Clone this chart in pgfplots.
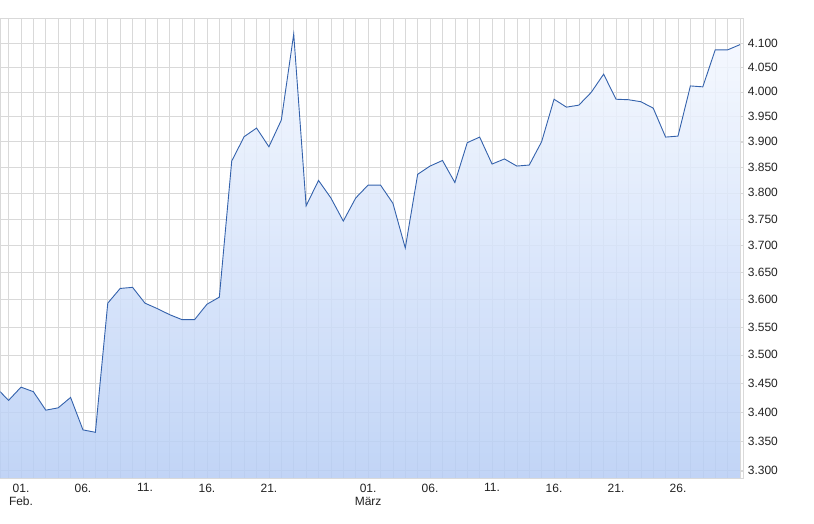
\documentclass[border=0pt]{standalone}
\usepackage{fontspec}
\setmainfont{Liberation Sans}
\usepackage{pgfplots}
\pgfplotsset{compat=1.18}
\definecolor{lineblue}{HTML}{3462AC}
\definecolor{filltop}{HTML}{F4F8FF}
\definecolor{fillbot}{HTML}{B6CDF5}
\definecolor{gridgray}{HTML}{D9D9D9}
\definecolor{labgray}{HTML}{222222}
\pgfplotstableread{
x y
-2 3442
-1 3420
0 3443
1 3435
2 3403
3 3407
4 3425
5 3369
6 3365
7 3593
8 3620
9 3622
10 3593
11 3583
12 3572
13 3563
14 3563
15 3591
16 3604
17 3862
18 3910
19 3927
20 3890
21 3943
22 4119
23 3775
24 3824
25 3790
26 3746
27 3790
28 3815
29 3815
30 3780
31 3695
32 3836
33 3852
34 3863
35 3820
36 3898
37 3909
38 3856
39 3866
40 3852
41 3854
42 3900
43 3985
44 3969
45 3973
46 3999
47 4036
48 3985
49 3984
50 3980
51 3967
52 3909
53 3911
54 4012
55 4010
56 4086
57 4086
58 4097
}\pricedata
\pgfplotstableread{
x y
-2 3287.8
-2 3442
-1 3420
0 3443
1 3435
2 3403
3 3407
4 3425
5 3369
6 3365
7 3593
8 3620
9 3622
10 3593
11 3583
12 3572
13 3563
14 3563
15 3591
16 3604
17 3862
18 3910
19 3927
20 3890
21 3943
22 4119
23 3775
24 3824
25 3790
26 3746
27 3790
28 3815
29 3815
30 3780
31 3695
32 3836
33 3852
34 3863
35 3820
36 3898
37 3909
38 3856
39 3866
40 3852
41 3854
42 3900
43 3985
44 3969
45 3973
46 3999
47 4036
48 3985
49 3984
50 3980
51 3967
52 3909
53 3911
54 4012
55 4010
56 4086
57 4086
58 4097
58 3287.8
}\areadata
\begin{document}
\begin{tikzpicture}
\begin{axis}[
  scale only axis,
  width=743.3pt, height=460.3pt,
  y coord trafo/.code={\pgfmathparse{ln(#1/3300)}},
  xmin=-1.67, xmax=58.27,
  ymin=3287.8, ymax=4152.7,
  axis line style={gridgray},
  ytick pos=right,
  yticklabel pos=right,
  xtick pos=bottom,
  ytick={3300,3350,3400,3450,3500,3550,3600,3650,3700,3750,3800,3850,3900,3950,4000,4050,4100},
  yticklabels={3.300,3.350,3.400,3.450,3.500,3.550,3.600,3.650,3.700,3.750,3.800,3.850,3.900,3.950,4.000,4.050,4.100},
  xtick={0,5,10,15,20,28,33,38,43,48,53},
  xticklabels={{01.\\Feb.},06.,11.,16.,21.,{01.\\März},06.,11.,16.,21.,26.},
  minor xtick={-1,...,58},
  xmajorgrids, xminorgrids, ymajorgrids,
  major grid style={gridgray, line width=0.6pt},
  minor grid style={gridgray, line width=0.6pt},
  major tick length=3pt,
  minor tick length=0pt,
  xtick style={draw=none},
  ytick style={gridgray},
  tick label style={font=\fontsize{12}{13.5}\selectfont, text=labgray},
  xticklabel style={align=center, yshift=-2pt},
  yticklabel style={anchor=west, xshift=1pt},
]
\addplot[draw=none, top color=filltop, bottom color=fillbot, fill opacity=0.85] table[x=x,y=y] {\areadata};
\addplot[lineblue, line width=0.9pt, mark=none] table[x=x,y=y] {\pricedata};
\end{axis}
\useasboundingbox ([yshift=-45.7pt]current axis.south west) rectangle ([xshift=70.7pt,yshift=18pt]current axis.north east);
\end{tikzpicture}
\end{document}
